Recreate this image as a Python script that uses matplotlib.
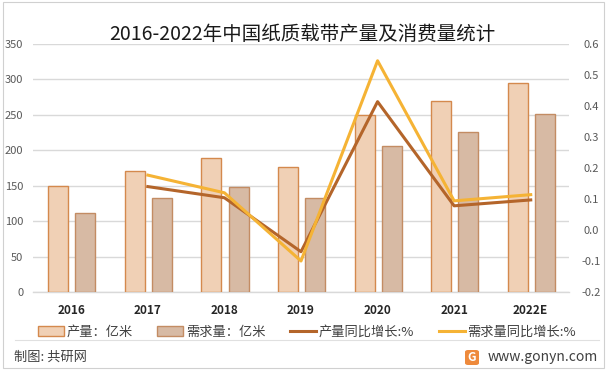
import matplotlib
matplotlib.use("Agg")
import matplotlib.pyplot as plt
import numpy as np
from matplotlib.patches import Patch, Rectangle, FancyBboxPatch
from matplotlib.lines import Line2D

plt.rcParams['font.family'] = ['Noto Sans CJK SC', 'DejaVu Sans']

years = ['2016', '2017', '2018', '2019', '2020', '2021', '2022E']
production = [150, 171, 189, 176, 250, 269, 295]      # 亿米
demand = [111, 132, 148, 132, 206, 226, 251]          # 亿米
growth_years = [1, 2, 3, 4, 5, 6]                     # index into years (2017..2022E)
prod_growth = [0.14, 0.104, -0.07, 0.414, 0.078, 0.097]
demand_growth = [0.177, 0.12, -0.10, 0.546, 0.094, 0.114]

c_prod = '#F0D0B5'
c_prod_edge = '#D4894D'
c_dem = '#D7BAA4'
c_dem_edge = '#C38C63'
c_line1 = '#B4652A'
c_line2 = '#F5B335'
grid_c = '#D9D9D9'

W, H = 613, 371
fig = plt.figure(figsize=(W / 100, H / 100), dpi=100)

# outer frame
fig.patches.append(Rectangle((3 / W, 1 - 368 / H), 601 / W, 366 / H, transform=fig.transFigure,
                             fill=False, edgecolor='#D0D0D0', linewidth=0.8))

ax = fig.add_axes([33 / W, 1 - 292 / H, 536 / W, 248 / H])
ax2 = ax.twinx()

x = np.arange(len(years))
bw = 0.26
ax.bar(x - 0.17, production, bw, color=c_prod, edgecolor=c_prod_edge, linewidth=1.0, zorder=3)
ax.bar(x + 0.185, demand, bw, color=c_dem, edgecolor=c_dem_edge, linewidth=1.0, zorder=3)

ax.set_ylim(0, 350)
ax.set_yticks(range(0, 351, 50))
ax.set_xlim(-0.5, len(years) - 0.5)
ax.set_xticks(x)
ax.set_xticklabels(years, fontweight='bold', fontsize=8.5, color='#262626')
ax.yaxis.grid(True, color=grid_c, linewidth=1.0, zorder=0)
ax.set_axisbelow(True)
ax.tick_params(axis='y', length=0, pad=7, labelsize=8, labelcolor='#595959')
ax.tick_params(axis='x', length=0, pad=9)
for s in ['top', 'left', 'right']:
    ax.spines[s].set_visible(False)
ax.spines['bottom'].set_color(grid_c)
ax.spines['bottom'].set_linewidth(1.0)

ax2.plot(growth_years, prod_growth, color=c_line1, linewidth=2.2, zorder=5)
ax2.plot(growth_years, demand_growth, color=c_line2, linewidth=2.2, zorder=6)
ax2.set_ylim(-0.2, 0.6)
ax2.set_yticks(np.arange(-0.2, 0.61, 0.1))
ax2.set_yticklabels(['{:.1f}'.format(v) for v in np.arange(-0.2, 0.61, 0.1)])
ax2.tick_params(axis='y', length=0, pad=16, labelsize=8, labelcolor='#595959')
for lab in ax2.get_yticklabels():
    lab.set_horizontalalignment('center')
for s in ['top', 'left', 'right', 'bottom']:
    ax2.spines[s].set_visible(False)

fig.text(302 / W, 1 - 35 / H, '2016-2022年中国纸质载带产量及消费量统计', ha='center', va='center',
         fontsize=14, color='#1A1A1A')

handles = [
    Patch(facecolor=c_prod, edgecolor=c_prod_edge, linewidth=1.0),
    Patch(facecolor=c_dem, edgecolor=c_dem_edge, linewidth=1.0),
    Line2D([], [], color=c_line1, linewidth=2.2),
    Line2D([], [], color=c_line2, linewidth=2.2),
]
labels = ['产量：亿米', '需求量：亿米', '产量同比增长:%', '需求量同比增长:%']
leg = fig.legend(handles, labels, loc='center', bbox_to_anchor=(307 / W, 1 - 332 / H), ncol=4,
                 frameon=False, fontsize=9.5, handlelength=1.95, handleheight=0.7,
                 handletextpad=0.2, columnspacing=1.9, borderpad=0)
for t in leg.get_texts():
    t.set_color('#404040')

# separator + footer
fig.add_artist(Line2D([15 / W, 599 / W], [1 - 340 / H, 1 - 340 / H], transform=fig.transFigure,
                      color='#E0E0E0', linewidth=0.8))
fig.text(14 / W, 1 - 357 / H, '制图: 共研网', ha='left', va='center', fontsize=9.5, color='#404040')
fig.text(598 / W, 1 - 357 / H, 'www.gonyn.com', ha='right', va='center', fontsize=10, color='#404040')
fig.patches.append(FancyBboxPatch((465 / W, 1 - 365 / H), 14 / W, 15 / H, transform=fig.transFigure,
                                  boxstyle='round,pad=0,rounding_size=0.005',
                                  facecolor='#EE8A3C', edgecolor='none'))
fig.text(472 / W, 1 - 357.5 / H, 'G', ha='center', va='center', fontsize=8.5, fontweight='bold',
         color='white')

fig.savefig('out.png', dpi=100)
